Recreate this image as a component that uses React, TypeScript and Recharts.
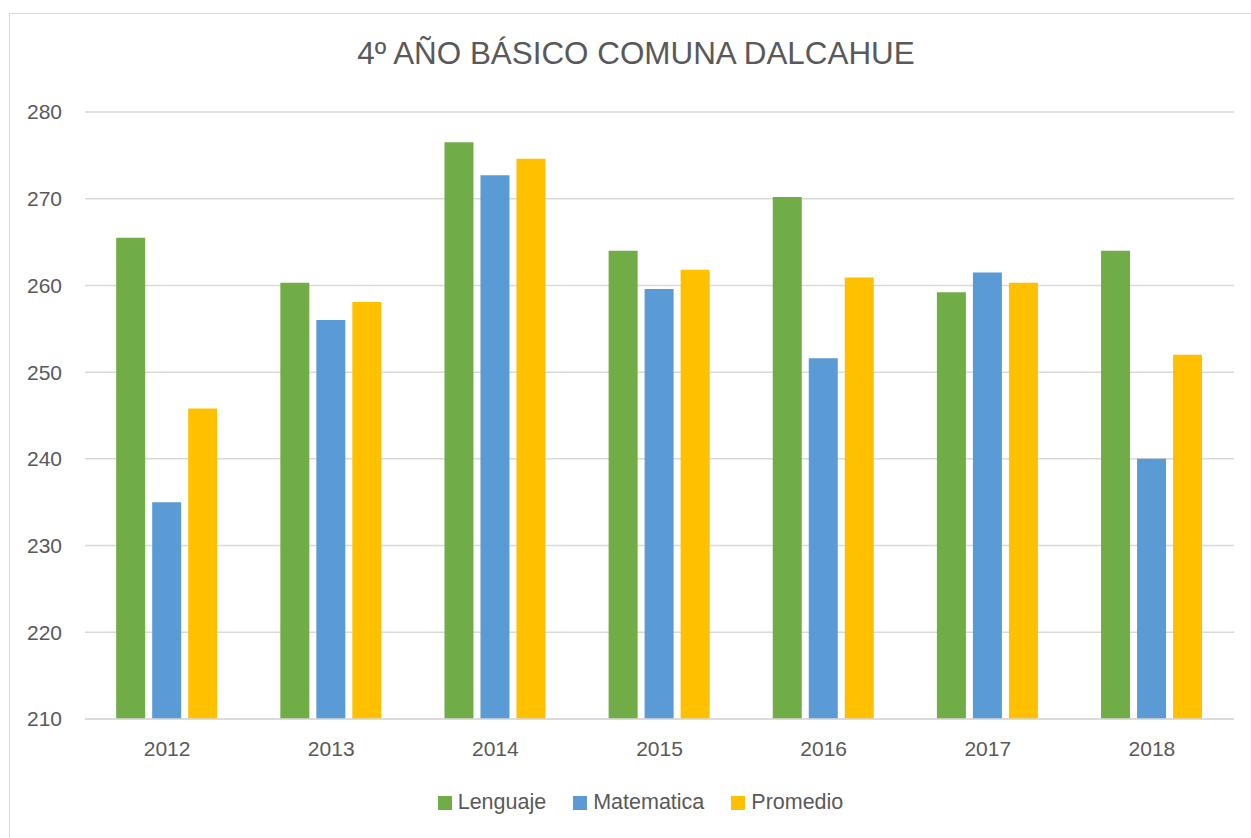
import React from 'react';
import { BarChart, Bar, XAxis, YAxis, CartesianGrid, Legend } from 'recharts';

const categories = ['2012', '2013', '2014', '2015', '2016', '2017', '2018'];
const lenguaje = [265.5, 260.3, 276.5, 264.0, 270.2, 259.2, 264.0];
const matematica = [235.0, 256.0, 272.7, 259.6, 251.6, 261.5, 240.0];
const promedio = [245.8, 258.1, 274.6, 261.8, 260.9, 260.3, 252.0];
const yTicks = [210, 220, 230, 240, 250, 260, 270, 280];
const title = '4º AÑO BÁSICO COMUNA DALCAHUE';

const seriesDefs = [
  { key: 'Lenguaje', color: '#70AD47' },
  { key: 'Matematica', color: '#5B9BD5' },
  { key: 'Promedio', color: '#FFC000' },
];

const data = categories.map((c, i) => ({
  year: c,
  Lenguaje: lenguaje[i],
  Matematica: matematica[i],
  Promedio: promedio[i],
}));

const FONT = '"Liberation Sans", Arial, sans-serif';
const TEXT = '#595959';

const LegendContent = () => (
  <div style={{ display: 'flex', justifyContent: 'center', alignItems: 'center', fontFamily: FONT, fontSize: 21.5, color: TEXT }}>
    {seriesDefs.map((s, i) => (
      <div key={s.key} style={{ display: 'flex', alignItems: 'center', marginRight: i < seriesDefs.length - 1 ? 27 : 0 }}>
        <span style={{ display: 'inline-block', width: 14, height: 14, background: s.color, marginRight: 6 }} />
        <span>{s.key}</span>
      </div>
    ))}
  </div>
);

export default function App() {
  return (
    <div style={{ position: 'absolute', left: 0, top: 0, width: 1251, height: 838, background: '#fff', overflow: 'hidden' }}>
      <div style={{ position: 'absolute', left: 9, top: 13, width: 1260, height: 840, border: '1.5px solid #d9d9d9', boxSizing: 'border-box' }} />
      <div style={{ position: 'absolute', left: 0, top: 0 }}>
        <BarChart
          width={1251}
          height={838}
          data={data}
          margin={{ top: 112, right: 17, left: 0, bottom: 69 }}
          barCategoryGap="19%"
          barGap={7}
        >
          <text x={636} y={64} textAnchor="middle" style={{ fontFamily: FONT, fontSize: 31.4, fill: TEXT }}>
            {title}
          </text>
          <CartesianGrid vertical={false} stroke="#d9d9d9" strokeWidth={1.5} />
          <XAxis
            dataKey="year"
            height={50}
            tickLine={false}
            tickSize={0}
            tickMargin={22}
            axisLine={{ stroke: '#d9d9d9', strokeWidth: 1.5 }}
            tick={{ fill: TEXT, fontSize: 21, fontFamily: FONT }}
          />
          <YAxis
            width={85}
            domain={[210, 280]}
            ticks={yTicks}
            allowDataOverflow
            axisLine={false}
            tickLine={false}
            tickSize={0}
            tickMargin={23}
            tick={{ fill: TEXT, fontSize: 21, fontFamily: FONT }}
          />
          <Legend
            verticalAlign="middle"
            align="center"
            content={<LegendContent />}
            wrapperStyle={{ top: 790, left: 15, width: 1251 }}
          />
          {seriesDefs.map((s) => (
            <Bar key={s.key} dataKey={s.key} fill={s.color} isAnimationActive={false} />
          ))}
        </BarChart>
      </div>
    </div>
  );
}
